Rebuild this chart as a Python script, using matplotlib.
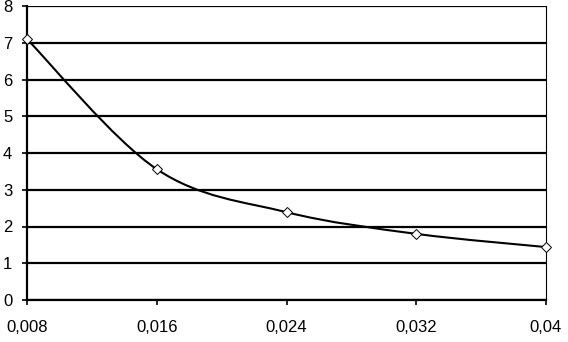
import numpy as np
import matplotlib.pyplot as plt
from matplotlib.path import Path
from matplotlib.patches import PathPatch

plt.rcParams['font.family'] = ['Liberation Sans', 'DejaVu Sans']

x = [0.008, 0.016, 0.024, 0.032, 0.04]
y = [7.1, 3.56, 2.39, 1.8, 1.44]
x_ticks = [0.008, 0.016, 0.024, 0.032, 0.04]
x_labels = ['0,008', '0,016', '0,024', '0,032', '0,04']


def smooth_path(xs, ys):
    # Excel-like smoothed line: cubic Bezier through the points
    p = np.column_stack([xs, ys])
    verts = [p[0]]
    codes = [Path.MOVETO]
    n = len(p)
    for i in range(n - 1):
        p0 = p[i - 1] if i > 0 else p[i]
        p3 = p[i + 2] if i + 2 < n else p[i + 1]
        c1 = p[i] + (p[i + 1] - p0) / 6
        c2 = p[i + 1] - (p3 - p[i]) / 6
        verts += [c1, c2, p[i + 1]]
        codes += [Path.CURVE4] * 3
    return Path(verts, codes)


def main():
    fig = plt.figure(figsize=(5.68, 3.42), dpi=100)
    ax = fig.add_axes([27/568, 1 - 300/342, (546 - 27)/568, (300 - 6)/342])

    ax.set_xlim(0.008, 0.04)
    ax.set_ylim(0, 8)
    ax.set_yticks(range(0, 9))
    ax.set_xticks(x_ticks)
    ax.set_xticklabels(x_labels)
    ax.grid(axis='y', color='black', linewidth=1.6)
    ax.set_axisbelow(True)

    ax.add_patch(PathPatch(smooth_path(x, y), facecolor='none',
                           edgecolor='black', linewidth=1.5, zorder=3))
    ax.plot(x, y, linestyle='none', marker='D', markersize=5.5,
            markerfacecolor='white', markeredgecolor='black',
            markeredgewidth=0.7, clip_on=False, zorder=4)

    ax.spines['top'].set_visible(False)
    ax.spines['right'].set_linewidth(0.8)
    ax.spines['left'].set_linewidth(1.6)
    ax.spines['bottom'].set_linewidth(1.6)

    ax.tick_params(axis='both', labelsize=12, length=3.6, width=1.2,
                   direction='out', colors='black')
    ax.tick_params(axis='x', pad=11)
    ax.tick_params(axis='y', pad=7)

    fig.savefig('out.png', dpi=100)
    return

if __name__ == '__main__':
    main()
